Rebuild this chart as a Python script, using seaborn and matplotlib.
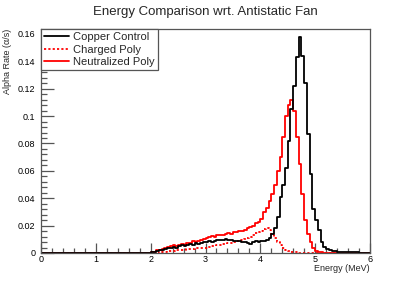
import numpy as np
import pandas as pd
import matplotlib
matplotlib.use("Agg")
import matplotlib.pyplot as plt
from matplotlib.lines import Line2D
from matplotlib.ticker import MultipleLocator, FuncFormatter
import seaborn as sns

# Histogram binning: 120 bins of 0.05 MeV from 0 to 6 MeV
bin_edges = np.round(np.linspace(0.0, 6.0, 121), 3)
bin_centres = (bin_edges[:-1] + bin_edges[1:]) / 2

# Alpha rates per bin (alpha/s). Bins below 2 MeV are empty.
copper_control = [0.0] * 40 + [
    0.0005, 0.001, 0.0015, 0.002, 0.0025, 0.003, 0.0035, 0.004, 0.0045, 0.004,
    0.005, 0.0055, 0.005, 0.006, 0.0065, 0.006, 0.007, 0.0065, 0.0075, 0.0078,
    0.008, 0.0085, 0.0082, 0.009, 0.0092, 0.0095, 0.0098, 0.010, 0.0097, 0.0093,
    0.009, 0.0088, 0.0085, 0.0082, 0.0078, 0.0072, 0.0065, 0.008, 0.0085, 0.0083,
    0.009, 0.0088, 0.0095, 0.011, 0.014, 0.018, 0.026, 0.041, 0.050, 0.062,
    0.082, 0.105, 0.122, 0.143, 0.158, 0.144, 0.124, 0.087, 0.058, 0.032,
    0.024, 0.017, 0.008, 0.0045, 0.003, 0.002, 0.0015, 0.0012, 0.001, 0.0008,
    0.0007, 0.0006, 0.0005, 0.0005, 0.0004, 0.0004, 0.0003, 0.0003, 0.0002, 0.0002,
]
charged_poly = [0.0] * 40 + [
    0.0, 0.0, 0.0003, 0.0005, 0.0008, 0.001, 0.0012, 0.0015, 0.0018, 0.002,
    0.0022, 0.0025, 0.0025, 0.0028, 0.003, 0.0032, 0.0033, 0.0035, 0.0035, 0.0038,
    0.004, 0.0045, 0.005, 0.0052, 0.0058, 0.006, 0.0065, 0.0068, 0.007, 0.0075,
    0.008, 0.0085, 0.009, 0.0095, 0.010, 0.011, 0.012, 0.013, 0.0145, 0.015,
    0.016, 0.0175, 0.018, 0.0165, 0.014, 0.011, 0.008, 0.0055, 0.0035, 0.002,
    0.0012, 0.0008, 0.0005, 0.0004, 0.0003, 0.0002, 0.0002, 0.0002, 0.0001, 0.0001,
    0.0001, 0.0001, 0.0, 0.0, 0.0, 0.0, 0.0, 0.0, 0.0, 0.0,
    0.0, 0.0, 0.0, 0.0, 0.0, 0.0, 0.0, 0.0, 0.0, 0.0,
]
neutralized_poly = [0.0] * 40 + [
    0.0005, 0.001, 0.002, 0.0025, 0.003, 0.004, 0.0045, 0.005, 0.0055, 0.005,
    0.006, 0.0065, 0.006, 0.007, 0.0075, 0.0085, 0.008, 0.009, 0.0095, 0.0105,
    0.011, 0.012, 0.0125, 0.012, 0.013, 0.0135, 0.0132, 0.014, 0.0145, 0.0142,
    0.015, 0.0155, 0.016, 0.0162, 0.017, 0.018, 0.019, 0.020, 0.022, 0.023,
    0.025, 0.030, 0.033, 0.038, 0.043, 0.050, 0.060, 0.070, 0.085, 0.100,
    0.108, 0.112, 0.104, 0.085, 0.065, 0.043, 0.024, 0.014, 0.008, 0.0035,
    0.0015, 0.0008, 0.0005, 0.0003, 0.0002, 0.0002, 0.0002, 0.0002, 0.0001, 0.0001,
    0.0001, 0.0001, 0.0001, 0.0001, 0.0001, 0.0001, 0.0001, 0.0001, 0.0001, 0.0001,
]

series_labels = ["Copper Control", "Charged Poly", "Neutralized Poly"]

hists = pd.DataFrame({
    "energy": bin_centres,
    "copper": copper_control,
    "charged": charged_poly,
    "neutral": neutralized_poly,
})
edges = bin_edges.tolist()

sns.set_theme(style="white")
plt.rcParams["font.family"] = ["Liberation Sans", "DejaVu Sans"]

fig = plt.figure(figsize=(4.11, 2.81), dpi=100)
ax = fig.add_axes([41 / 411, 1 - 253 / 281, 329 / 411, 224 / 281])

dotted = (0, (1.2, 1.2))
sns.histplot(data=hists, x="energy", weights="charged", bins=edges, element="step",
             fill=False, color="#ff0000", linestyle=dotted, linewidth=1.3, ax=ax)
sns.histplot(data=hists, x="energy", weights="neutral", bins=edges, element="step",
             fill=False, color="#ff0000", linewidth=1.3, ax=ax)
sns.histplot(data=hists, x="energy", weights="copper", bins=edges, element="step",
             fill=False, color="black", linewidth=1.3, ax=ax)

ax.set_xlim(0, 6)
ax.set_ylim(0, 0.1636)

# ROOT-like axes
for side in ["left", "bottom", "right", "top"]:
    ax.spines[side].set_color("#555555")
    ax.spines[side].set_linewidth(0.9)
ax.xaxis.set_major_locator(MultipleLocator(1))
ax.xaxis.set_minor_locator(MultipleLocator(0.2))
ax.yaxis.set_major_locator(MultipleLocator(0.02))
ax.yaxis.set_minor_locator(MultipleLocator(0.004))
ax.yaxis.set_major_formatter(FuncFormatter(lambda v, p: ("%.2f" % v).rstrip("0").rstrip(".")))
ax.tick_params(axis="both", which="both", direction="in", color="#555555",
               width=0.9, labelsize=6.5, labelcolor="black",
               bottom=True, left=True, top=False, right=False)
ax.tick_params(axis="y", which="major", length=9, pad=4)
ax.tick_params(axis="y", which="minor", length=4.5)
ax.tick_params(axis="x", which="major", length=7, pad=1.5)
ax.tick_params(axis="x", which="minor", length=3.5)
ax.grid(False)

ax.set_xlabel("Energy (MeV)", fontsize=6.5, loc="right")
ax.set_ylabel("Alpha Rate (\u03b1/s)", fontsize=6.5, loc="top")
ax.xaxis.set_label_coords(1.0, -0.05)
ax.yaxis.set_label_coords(-0.088, 1.0)

fig.text(0.5, 1 - 12 / 281, "Energy Comparison wrt. Antistatic Fan",
         ha="center", va="center", fontsize=9.5)

handles = [
    Line2D([], [], color="black", linewidth=1.3),
    Line2D([], [], color="#ff0000", linewidth=1.3, linestyle=dotted),
    Line2D([], [], color="#ff0000", linewidth=1.3),
]
leg = ax.legend(handles, series_labels, loc="upper left", bbox_to_anchor=(0, 1),
                borderaxespad=0, fontsize=8, frameon=True, fancybox=False,
                handlelength=2.2, handletextpad=0.4, labelspacing=0.2,
                borderpad=0.3, framealpha=1)
leg.get_frame().set_edgecolor("#555555")
leg.get_frame().set_linewidth(0.9)

fig.savefig("out.png", dpi=100)
